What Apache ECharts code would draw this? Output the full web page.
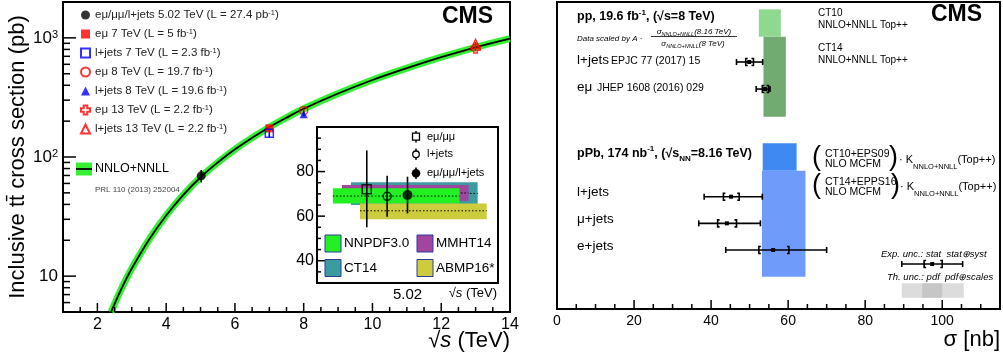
<!DOCTYPE html>
<html>
<head>
<meta charset="utf-8">
<script src="https://cdn.jsdelivr.net/npm/echarts@6/dist/echarts.min.js"></script>
<style>
  html, body { margin: 0; padding: 0; background: #fff; }
  #chart { width: 1003px; height: 360px; }
</style>
</head>
<body>
<div id="chart"></div>
<script>
// ---- left panel: sqrt(s) dependence ----
// NNLO+NNLL prediction (pb)
const curveSqrtS = [2.4, 2.6, 2.8, 3.0, 3.5, 4.0, 4.5, 5.0, 5.5, 6.0, 6.5, 7.0, 7.5, 8.0, 9.0, 10.0, 11.0, 12.0, 13.0, 14.0];
const curveXsec = [5.0, 6.8, 9.0, 11.6, 20.2, 32.3, 48.1, 67.6, 90, 116, 145, 178, 214, 254, 341, 443, 557, 688, 832, 984];

// CMS measurements
const measNames = [
  'eμ/μμ/l+jets 5.02 TeV (L = 27.4 pb⁻¹)',
  'eμ 7 TeV (L = 5 fb⁻¹)',
  'l+jets 7 TeV (L = 2.3 fb⁻¹)',
  'eμ 8 TeV (L = 19.7 fb⁻¹)',
  'l+jets 8 TeV (L = 19.6 fb⁻¹)',
  'eμ 13 TeV (L = 2.2 fb⁻¹)',
  'l+jets 13 TeV (L = 2.2 fb⁻¹)'
];
const measSqrtS = [5.02, 7, 7, 8, 8, 13, 13];
const measXsec = [69.5, 174, 158, 245, 228, 815, 888];
const measErr = [8.4, 7.6, 11.6, 9.3, 9.0, 44, 34];

const yMajorTicks = [10, 100, 1000];
const yMinorTicks = [6, 7, 8, 9, 20, 30, 40, 50, 60, 70, 80, 90, 200, 300, 400, 500, 600, 700, 800, 900];
const xMajorTicks = [2, 4, 6, 8, 10, 12, 14];
const xMinorTicks = [1.5, 2.5, 3, 3.5, 4.5, 5, 5.5, 6.5, 7, 7.5, 8.5, 9, 9.5, 10.5, 11, 11.5, 12.5, 13, 13.5];

// inset at 5.02 TeV
const insetNames = ['eμ/μμ', 'l+jets', 'eμ/μμ/l+jets'];
const insetPos = [4.84, 4.93, 5.02];
const insetXsec = [72.1, 68.9, 69.5];
const insetLo = [55.0, 59.7, 61.2];
const insetHi = [89.5, 78.1, 77.7];

const pdfNames = ['CT14', 'MMHT14', 'NNPDF3.0', 'ABMP16*'];
const pdfFrom = [4.77, 4.73, 4.69, 4.81];
const pdfTo = [5.33, 5.29, 5.25, 5.37];
const pdfLow = [65.0, 66.8, 65.7, 58.6];
const pdfHigh = [75.2, 74.0, 72.5, 65.7];
const pdfCentral = [70.2, 70.4, 69.0, 62.4];
const insetTicks = [40, 60, 80];
const insetMinorTicks = [35, 45, 50, 55, 65, 70, 75, 85, 90, 95];

// ---- right panel: sigma [nb] ----
const ppNames = ['l+jets', 'eμ'];
const ppRow = [6.06, 8.79];
const ppSigma = [49.9, 54.0];
const ppStatLo = [49.0, 53.3];
const ppStatHi = [51.0, 54.9];
const ppTotLo = [46.6, 51.7];
const ppTotHi = [53.4, 55.3];

const pPbNames = ['l+jets', 'μ+jets', 'e+jets'];
const pPbRow = [19.66, 22.35, 25.04];
const pPbSigma = [45.2, 44.1, 56.1];
const pPbStatLo = [43.2, 41.7, 52.4];
const pPbStatHi = [47.3, 46.6, 60.2];
const pPbTotLo = [38.2, 36.8, 43.8];
const pPbTotHi = [53.3, 52.8, 70.0];

// "Exp. unc." legend sample
const expSample = [26.46, 97.4, 95.3, 100.0, 89.5, 105.3];

const thNames = ['CT10 NNLO+NNLL Top++', 'CT14 NNLO+NNLL Top++', 'CT10+EPS09 NLO MCFM', 'CT14+EPPS16 NLO MCFM'];
const thLo = [52.4, 53.6, 53.4, 53.2];
const thHi = [58.1, 59.4, 62.2, 64.5];
const thRowTop = [0.74, 3.5, 14.27, 17.04];
const thRowBottom = [3.5, 11.58, 17.04, 27.74];

// "Th. unc." legend sample: outer (pdf+scales), inner (pdf)
const thSampleOuter = [89.5, 105.6];
const thSampleInner = [94.8, 100.0];
const thSampleRows = [28.41, 29.86];

const sigmaTicks = [0, 20, 40, 60, 80, 100];
const sigmaMinorTicks = [5, 10, 15, 25, 30, 35, 45, 50, 55, 65, 70, 75, 85, 90, 95, 105, 110];

const FONT = '"Liberation Sans", Arial, Helvetica, sans-serif';

const measSymbols = ['circle', 'rect', 'rect', 'circle', 'triangle', 'path://M3,0H7V3H10V7H7V10H3V7H0V3H3Z', 'triangle'];
const measSizes = [9, 8, 8, 8, 8, 9, 9];
const measColors = ['#000', '#f00', '#00f', '#f00', '#00f', '#f00', '#f00'];
const measFilled = [true, true, false, false, true, false, false];
const pdfColors = ['#3a9c9e', '#a1459f', '#22f022', '#cccc3c'];
const thColors = ['#8fd88f', '#72aa72', '#3f8af2', '#6f9cfa'];

const chart = echarts.init(document.getElementById('chart'));

function vErr(color) {
  return function (params, api) {
    const lo = api.coord([api.value(0), api.value(2)]);
    const hi = api.coord([api.value(0), api.value(3)]);
    return {
      type: 'line',
      shape: { x1: lo[0], y1: lo[1], x2: hi[0], y2: hi[1] },
      style: { stroke: Array.isArray(color) ? color[params.dataIndex] : color, lineWidth: 1.6 }
    };
  };
}

function hErr(params, api) {
  const row = api.value(0);
  const c = api.coord([api.value(1), row]);
  const sl = api.coord([api.value(2), row])[0];
  const sh = api.coord([api.value(3), row])[0];
  const tl = api.coord([api.value(4), row])[0];
  const th = api.coord([api.value(5), row])[0];
  const y = c[1];
  const st = { stroke: '#000', lineWidth: 1.6, fill: null };
  const cap = 3, br = 3.5, serif = 2;
  return {
    type: 'group',
    children: [
      { type: 'line', shape: { x1: tl, y1: y, x2: th, y2: y }, style: st },
      { type: 'line', shape: { x1: tl, y1: y - cap, x2: tl, y2: y + cap }, style: st },
      { type: 'line', shape: { x1: th, y1: y - cap, x2: th, y2: y + cap }, style: st },
      { type: 'polyline', shape: { points: [[sl + serif, y - br], [sl, y - br], [sl, y + br], [sl + serif, y + br]] }, style: st },
      { type: 'polyline', shape: { points: [[sh - serif, y - br], [sh, y - br], [sh, y + br], [sh - serif, y + br]] }, style: st },
      { type: 'rect', shape: { x: c[0] - 2, y: y - 2, width: 4, height: 4 }, style: { fill: '#000' } }
    ]
  };
}

function T(x, y, text, size, extra) {
  return {
    type: 'text', x: x, y: y, silent: true, z: 20,
    style: Object.assign({
      text: text, fontSize: size, fontFamily: FONT, fill: '#000',
      verticalAlign: 'middle', align: 'left'
    }, extra || {})
  };
}

const supRich = (size, bold) => ({ fontSize: size, fontWeight: bold ? 'bold' : 'normal', fontFamily: FONT, verticalAlign: 'top', lineHeight: size + 1 });
const subRich = (size, bold, italic) => ({ fontSize: size, fontWeight: bold ? 'bold' : 'normal', fontStyle: italic ? 'italic' : 'normal', fontFamily: FONT, verticalAlign: 'bottom', lineHeight: size + 1 });

const series = [];

// NNLO+NNLL band + central line
series.push({
  type: 'line', xAxisIndex: 0, yAxisIndex: 0, silent: true, smooth: 0.4, showSymbol: false, z: 2,
  data: curveSqrtS.map((x, i) => [x, curveXsec[i]]),
  lineStyle: { color: '#33f033', width: 7 }
});
series.push({
  type: 'line', xAxisIndex: 0, yAxisIndex: 0, silent: true, smooth: 0.4, showSymbol: false, z: 3,
  data: curveSqrtS.map((x, i) => [x, curveXsec[i]]),
  lineStyle: { color: '#000', width: 1.8 }
});
series.push({
  type: 'custom', xAxisIndex: 0, yAxisIndex: 0, silent: true, z: 4,
  data: measSqrtS.map((x, i) => [x, measXsec[i], measXsec[i] - measErr[i], measXsec[i] + measErr[i]]),
  encode: { x: 0, y: [1, 2, 3] },
  renderItem: vErr(measColors)
});
measNames.forEach((name, i) => {
  series.push({
    type: 'scatter', name: name, xAxisIndex: 0, yAxisIndex: 0, z: 5, silent: true,
    symbol: measSymbols[i], symbolSize: measSizes[i],
    data: [[measSqrtS[i], measXsec[i]]],
    itemStyle: measFilled[i]
      ? { color: measColors[i] }
      : { color: 'rgba(255,255,255,0)', borderColor: measColors[i], borderWidth: 1.5 }
  });
});

// inset
series.push({
  type: 'custom', xAxisIndex: 1, yAxisIndex: 1, silent: true, z: 3,
  data: pdfNames.map((n, i) => [pdfFrom[i], pdfTo[i], pdfLow[i], pdfHigh[i], pdfCentral[i]]),
  encode: { x: [0, 1], y: [2, 3, 4] },
  renderItem: function (params, api) {
    const a = api.coord([api.value(0), api.value(3)]);
    const b = api.coord([api.value(1), api.value(2)]);
    const m = api.coord([api.value(0), api.value(4)]);
    return {
      type: 'group',
      children: [
        { type: 'rect', shape: { x: a[0], y: a[1], width: b[0] - a[0], height: b[1] - a[1] }, style: { fill: pdfColors[params.dataIndex] } },
        { type: 'line', shape: { x1: a[0], y1: m[1], x2: b[0], y2: m[1] }, style: { stroke: '#000', lineWidth: 1, lineDash: [1.5, 2] } }
      ]
    };
  }
});
series.push({
  type: 'custom', xAxisIndex: 1, yAxisIndex: 1, silent: true, z: 4,
  data: insetPos.map((x, i) => [x, insetXsec[i], insetLo[i], insetHi[i]]),
  encode: { x: 0, y: [1, 2, 3] },
  renderItem: vErr('#000')
});
const insetSymbols = ['rect', 'circle', 'circle'];
const insetSizes = [9, 8, 10];
const insetFilled = [false, false, true];
insetNames.forEach((name, i) => {
  series.push({
    type: 'scatter', name: 'inset ' + name, xAxisIndex: 1, yAxisIndex: 1, z: 5, silent: true,
    symbol: insetSymbols[i], symbolSize: insetSizes[i],
    data: [[insetPos[i], insetXsec[i]]],
    itemStyle: insetFilled[i] ? { color: '#000' } : { color: 'rgba(255,255,255,0)', borderColor: '#000', borderWidth: 1.5 }
  });
});

// right panel: theory bands
series.push({
  type: 'custom', xAxisIndex: 2, yAxisIndex: 2, silent: true, z: 2,
  data: thNames.map((n, i) => [thLo[i], thHi[i], thRowTop[i], thRowBottom[i]]),
  encode: { x: [0, 1], y: [2, 3] },
  renderItem: function (params, api) {
    const a = api.coord([api.value(0), api.value(2)]);
    const b = api.coord([api.value(1), api.value(3)]);
    return { type: 'rect', shape: { x: a[0], y: a[1], width: b[0] - a[0], height: b[1] - a[1] }, style: { fill: thColors[params.dataIndex] } };
  }
});
const thSampleColors = ['#dcdcdc', '#c6c6c6'];
series.push({
  type: 'custom', xAxisIndex: 2, yAxisIndex: 2, silent: true, z: 2,
  data: [[thSampleOuter[0], thSampleOuter[1], thSampleRows[0], thSampleRows[1]],
         [thSampleInner[0], thSampleInner[1], thSampleRows[0], thSampleRows[1]]],
  encode: { x: [0, 1], y: [2, 3] },
  renderItem: function (params, api) {
    const a = api.coord([api.value(0), api.value(2)]);
    const b = api.coord([api.value(1), api.value(3)]);
    return { type: 'rect', shape: { x: a[0], y: a[1], width: b[0] - a[0], height: b[1] - a[1] }, style: { fill: thSampleColors[params.dataIndex] } };
  }
});
const hData = ppNames.map((n, i) => [ppRow[i], ppSigma[i], ppStatLo[i], ppStatHi[i], ppTotLo[i], ppTotHi[i]])
  .concat(pPbNames.map((n, i) => [pPbRow[i], pPbSigma[i], pPbStatLo[i], pPbStatHi[i], pPbTotLo[i], pPbTotHi[i]]))
  .concat([expSample]);
series.push({
  type: 'custom', xAxisIndex: 2, yAxisIndex: 2, silent: true, z: 4,
  data: hData,
  encode: { x: [1, 2, 3, 4, 5], y: 0 },
  renderItem: hErr
});

const noSplit = { show: false };
const noLine = { show: false };
const noTick = { show: false };

const graphics = [
  // left panel annotations
  T(493, 17, 'CMS', 23, { fontWeight: 'bold', align: 'right' }),
  T(510, 341, '√{i|s} (TeV)', 22, { align: 'right', rich: { i: { fontSize: 22, fontStyle: 'italic', fontFamily: FONT } } }),
  T(497, 293, '√{i|s} (TeV)', 13, { align: 'right', rich: { i: { fontSize: 13, fontStyle: 'italic', fontFamily: FONT } } }),
  { type: 'rect', shape: { x: 76, y: 162.5, width: 16, height: 13 }, style: { fill: '#33f033' }, silent: true, z: 20 },
  { type: 'line', shape: { x1: 76, y1: 169, x2: 92, y2: 169 }, style: { stroke: '#000', lineWidth: 1.8 }, silent: true, z: 21 },
  T(95, 169, 'NNLO+NNLL', 12.5),
  T(95, 189.5, 'PRL 110 (2013) 252004', 8, { fill: '#444' }),
  // inset legend (measurements)
  { type: 'line', shape: { x1: 416, y1: 131, x2: 416, y2: 142.5 }, style: { stroke: '#000', lineWidth: 1.5 }, silent: true, z: 20 },
  { type: 'rect', shape: { x: 412.5, y: 133.2, width: 7, height: 7 }, style: { fill: '#fff', stroke: '#000', lineWidth: 1.3 }, silent: true, z: 21 },
  { type: 'line', shape: { x1: 416, y1: 148.5, x2: 416, y2: 160 }, style: { stroke: '#000', lineWidth: 1.5 }, silent: true, z: 20 },
  { type: 'circle', shape: { cx: 416, cy: 154.3, r: 3.3 }, style: { fill: '#fff', stroke: '#000', lineWidth: 1.3 }, silent: true, z: 21 },
  { type: 'line', shape: { x1: 416, y1: 167.5, x2: 416, y2: 179 }, style: { stroke: '#000', lineWidth: 1.5 }, silent: true, z: 20 },
  { type: 'circle', shape: { cx: 416, cy: 173.3, r: 4.3 }, style: { fill: '#000' }, silent: true, z: 21 },
  T(427, 136.7, insetNames[0], 11),
  T(427, 154.3, insetNames[1], 11),
  T(427, 173.3, insetNames[2], 11),
  // inset legend (PDFs)
  { type: 'rect', shape: { x: 325, y: 235, width: 16, height: 17 }, style: { fill: pdfColors[2], stroke: '#2b3c9c', lineWidth: 1 }, silent: true, z: 20 },
  { type: 'rect', shape: { x: 417, y: 235, width: 16, height: 17 }, style: { fill: pdfColors[1], stroke: '#2b3c9c', lineWidth: 1 }, silent: true, z: 20 },
  { type: 'rect', shape: { x: 325, y: 259.5, width: 16, height: 17 }, style: { fill: pdfColors[0], stroke: '#2b3c9c', lineWidth: 1 }, silent: true, z: 20 },
  { type: 'rect', shape: { x: 417, y: 259.5, width: 16, height: 17 }, style: { fill: pdfColors[3], stroke: '#2b3c9c', lineWidth: 1 }, silent: true, z: 20 },
  T(344, 243.5, pdfNames[2], 13.5),
  T(436, 243.5, pdfNames[1], 13.5),
  T(344, 268, pdfNames[0], 13.5),
  T(436, 268, pdfNames[3], 13.5),

  // right panel annotations
  T(982, 15, 'CMS', 23, { fontWeight: 'bold', align: 'right' }),
  T(1000, 340, 'σ [nb]', 22, { align: 'right' }),
  T(577, 16.7, 'pp, 19.6 fb{sup|-1}, (√s=8 TeV)', 12.5, { fontWeight: 'bold', lineHeight: 16, rich: { sup: supRich(8, true) } }),
  T(577, 39, 'Data scaled by A ·', 8, { fontStyle: 'italic' }),
  T(694, 31.5, 'σ{sub|NNLO+NNLL}(8.16 TeV)', 8, { fontStyle: 'italic', align: 'center', lineHeight: 11, rich: { sub: subRich(5.5, false, true) } }),
  { type: 'line', shape: { x1: 651, y1: 36.5, x2: 737, y2: 36.5 }, style: { stroke: '#000', lineWidth: 0.8 }, silent: true, z: 20 },
  T(693, 43.5, 'σ{sub|NNLO+NNLL}(8 TeV)', 8, { fontStyle: 'italic', align: 'center', lineHeight: 11, rich: { sub: subRich(5.5, false, true) } }),
  T(577, 60, ppNames[0], 13.5),
  T(611, 61, 'EPJC 77 (2017) 15', 10.5),
  T(577, 87.3, ppNames[1], 13.5),
  T(597, 88, 'JHEP 1608 (2016) 029', 10.5),
  T(818, 13.3, 'CT10', 10),
  T(818, 25, 'NNLO+NNLL Top++', 10),
  T(818, 48, 'CT14', 10),
  T(818, 60, 'NNLO+NNLL Top++', 10),

  T(577, 154, 'pPb, 174 nb{sup|-1}, (√s{sub|NN}=8.16 TeV)', 12.5, { fontWeight: 'bold', lineHeight: 18, rich: { sup: supRich(8, true), sub: subRich(8, true) } }),
  T(812, 158, '(', 27, { fontWeight: 'lighter' }),
  T(825, 154, 'CT10+EPS09', 10.5),
  T(825, 164.5, 'NLO MCFM', 10.5),
  T(889, 158, ')', 27, { fontWeight: 'lighter' }),
  T(899, 159.5, '· K{sub|NNLO+NNLL}(Top++)', 11, { lineHeight: 22, rich: { sub: subRich(7.5) } }),
  T(812, 186, '(', 27, { fontWeight: 'lighter' }),
  T(825, 181.7, 'CT14+EPPS16', 10.5),
  T(825, 192.5, 'NLO MCFM', 10.5),
  T(891, 186, ')', 27, { fontWeight: 'lighter' }),
  T(900, 187, '· K{sub|NNLO+NNLL}(Top++)', 11, { lineHeight: 22, rich: { sub: subRich(7.5) } }),
  T(577, 192, pPbNames[0], 13.5),
  T(577, 219.3, pPbNames[1], 13.5),
  T(577, 246, pPbNames[2], 13.5),
  T(881, 254, 'Exp. unc.: stat  stat⊕syst', 9.5, { fontStyle: 'italic' }),
  T(887, 277.7, 'Th. unc.: pdf  pdf⊕scales', 9.5, { fontStyle: 'italic' })
];

const option = {
  animation: false,
  textStyle: { fontFamily: FONT },
  grid: [
    { left: 63, top: 2, right: 493, bottom: 48, show: true, borderColor: '#000', borderWidth: 2, backgroundColor: 'rgba(0,0,0,0)' },
    { left: 317, top: 127, right: 505, bottom: 77, show: true, borderColor: '#000', borderWidth: 2, backgroundColor: '#fff' },
    { left: 557, top: 2, right: 3, bottom: 51, show: true, borderColor: '#000', borderWidth: 2, backgroundColor: 'rgba(0,0,0,0)' }
  ],
  xAxis: [
    {
      gridIndex: 0, type: 'value', min: 1, max: 14,
      axisLine: noLine, splitLine: noSplit, axisTick: noTick,
      axisLabel: { customValues: xMajorTicks, fontSize: 16, color: '#000', margin: 5 }
    },
    {
      gridIndex: 1, type: 'value', min: 4.62, max: 5.42,
      axisLine: noLine, splitLine: noSplit, axisTick: noTick,
      axisLabel: { customValues: [5.02], formatter: v => v.toFixed(2), fontSize: 15, color: '#000', margin: 4 }
    },
    {
      gridIndex: 2, type: 'value', min: 0, max: 115,
      axisLine: noLine, splitLine: noSplit, axisTick: noTick,
      axisLabel: { customValues: sigmaTicks, fontSize: 14, color: '#000', margin: 5 }
    }
  ],
  yAxis: [
    {
      gridIndex: 0, type: 'log', logBase: 10, min: 5, max: 2000,
      axisLine: noLine, splitLine: noSplit, axisTick: noTick,
      axisLabel: {
        customValues: yMajorTicks, fontSize: 17, color: '#000', margin: 5,
        formatter: v => { const e = Math.round(Math.log10(v)); return e === 1 ? '10' : '10{sup|' + e + '}'; },
        rich: { sup: { fontSize: 11, verticalAlign: 'top', lineHeight: 10, color: '#000' } }
      },
      name: 'Inclusive tt\u0304 cross section (pb)', nameLocation: 'middle', nameRotate: 90, nameGap: 33,
      nameTextStyle: { fontSize: 22, color: '#000' }
    },
    {
      gridIndex: 1, type: 'value', min: 30, max: 100,
      axisLine: noLine, splitLine: noSplit, axisTick: noTick,
      axisLabel: { customValues: insetTicks, fontSize: 16, color: '#000', margin: 3 }
    },
    { gridIndex: 2, type: 'value', min: 0, max: 31, inverse: true, show: false, splitLine: noSplit }
  ],
  legend: {
    data: measNames, orient: 'vertical', left: 80, top: 9, itemWidth: 9, itemHeight: 9, itemGap: 7,
    selectedMode: false, padding: 0,
    textStyle: { fontSize: 11.5, color: '#222', lineHeight: 12,
      rich: { sup: { fontSize: 7.5, verticalAlign: 'top', lineHeight: 8, color: '#222' } } },
    formatter: n => n.replace('⁻¹', '{sup|-1}')
  },
  graphic: graphics,
  series: series
};

chart.setOption(option);

// inward tick marks, placed through each grid's own axes once they exist
function tickMarks(xi, yi, dim, values, ref, len) {
  const out = [];
  values.forEach(v => {
    const p = chart.convertToPixel({ xAxisIndex: xi, yAxisIndex: yi }, dim === 'x' ? [v, ref] : [ref, v]);
    if (!p || isNaN(p[0]) || isNaN(p[1])) return;
    const shape = dim === 'x'
      ? { x1: p[0], y1: p[1], x2: p[0], y2: p[1] - len }
      : { x1: p[0], y1: p[1], x2: p[0] + len, y2: p[1] };
    out.push({ type: 'line', shape: shape, style: { stroke: '#000', lineWidth: 1.5 }, silent: true, z: 19 });
  });
  return out;
}

const tickEls = [].concat(
  tickMarks(0, 0, 'x', xMajorTicks, 5, 9),
  tickMarks(0, 0, 'x', xMinorTicks, 5, 5),
  tickMarks(0, 0, 'y', yMajorTicks, 1, 13),
  tickMarks(0, 0, 'y', yMinorTicks, 1, 7),
  tickMarks(1, 1, 'y', insetTicks, 4.62, 8),
  tickMarks(1, 1, 'y', insetMinorTicks, 4.62, 4),
  tickMarks(2, 2, 'x', sigmaTicks, 31, 9),
  tickMarks(2, 2, 'x', sigmaMinorTicks, 31, 5)
);
chart.setOption({ graphic: graphics.concat(tickEls) });
</script>
</body>
</html>
